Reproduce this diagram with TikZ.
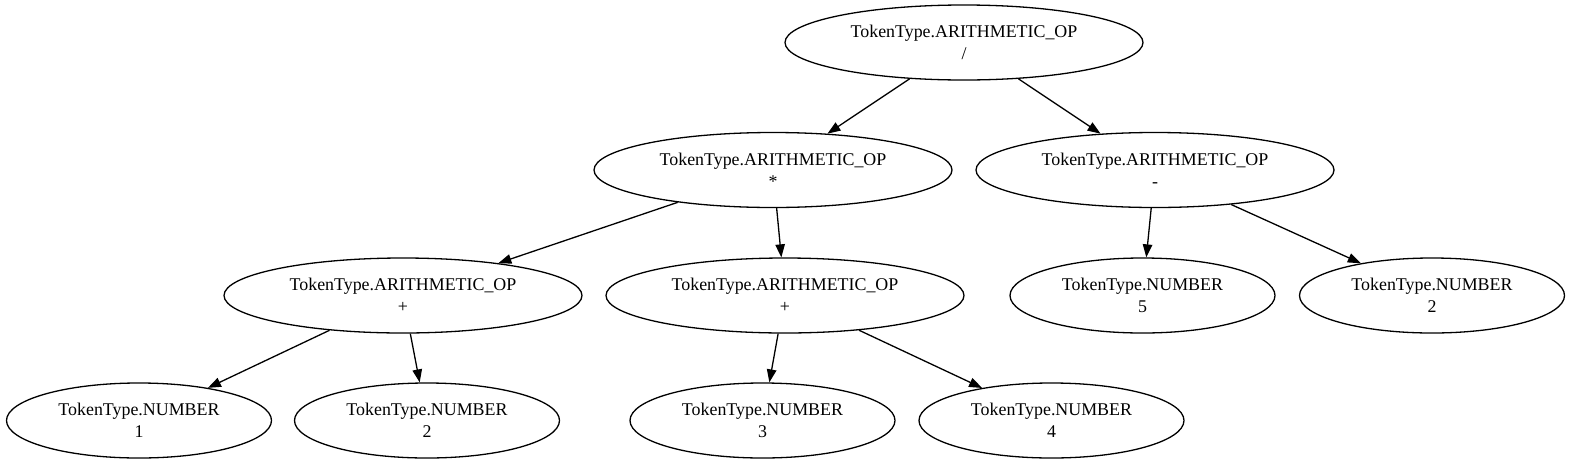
\documentclass[tikz,border=0pt]{standalone}
\usepackage{fontspec}
\setmainfont{Liberation Serif}
\usepackage{tikz}
\usetikzlibrary{shapes.geometric,arrows.meta}
\tikzset{
  every node/.style={font=\fontsize{17.9}{22}\selectfont},
  tok/.style={ellipse,draw,line width=1.3pt,inner sep=0pt,align=center,minimum height=75pt},
  opnode/.style={tok,minimum width=358pt},
  numnode/.style={tok,minimum width=265pt},
  >={Triangle[length=13pt,width=9.5pt]},
}

\begin{document}
\begin{tikzpicture}[
  x=1pt,y=-1pt,
  ->,line width=1.3pt
]
\useasboundingbox (0,0) rectangle (1572,464);

\node[opnode] (div) at (964,42.5) {TokenType.ARITHMETIC\_OP\\/};

\node[opnode] (mul) at (773,170) {TokenType.ARITHMETIC\_OP\\*};
\node[opnode] (sub) at (1155,170) {TokenType.ARITHMETIC\_OP\\-};

\node[opnode] (add1) at (403,295.5) {TokenType.ARITHMETIC\_OP\\+};
\node[opnode] (add2) at (785,295.5) {TokenType.ARITHMETIC\_OP\\+};
\node[numnode] (n5) at (1142.5,295.5) {TokenType.NUMBER\\5};
\node[numnode] (n2b) at (1432,295.5) {TokenType.NUMBER\\2};

\node[numnode] (n1) at (139,420.5) {TokenType.NUMBER\\1};
\node[numnode] (n2) at (427,420.5) {TokenType.NUMBER\\2};
\node[numnode] (n3) at (762.5,420.5) {TokenType.NUMBER\\3};
\node[numnode] (n4) at (1051.5,420.5) {TokenType.NUMBER\\4};

\path
(div) edge (mul)
(div) edge (sub)

(mul) edge (add1)
(mul) edge (add2)
(sub) edge (n5)
(sub) edge (n2b)

(add1) edge (n1)
(add1) edge (n2)
(add2) edge (n3)
(add2) edge (n4);

\end{tikzpicture}
\end{document}
